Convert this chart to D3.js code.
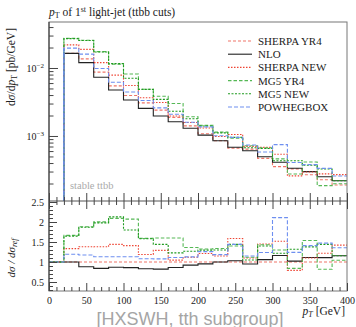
<!DOCTYPE html>
<html>
<head>
<meta charset="utf-8">
<script src="https://cdn.jsdelivr.net/npm/d3@7"></script>
<style>
  html, body { margin: 0; padding: 0; background: #fff; }
  svg { display: block; }
  text { font-family: "Liberation Serif", "DejaVu Serif", serif; }
  text.sans { font-family: "Liberation Sans", Arial, sans-serif; }
</style>
</head>
<body>
<svg id="chart" width="356" height="327"></svg>
<script>
// Bin edges of the leading light-jet pT histogram [GeV]
const binEdges = [20, 40, 60, 80, 100, 120, 140, 160, 180, 200, 220, 240, 260, 280, 300, 320, 340, 360, 380, 400];

// dσ/dpT [pb/GeV] per bin
const sherpaYR4 = [0.0164, 0.0136, 0.00869, 0.00545, 0.00393, 0.00307, 0.00240, 0.00188, 0.00141, 0.00108, 0.000853, 0.000662, 0.000640, 0.000468, 0.000354, 0.000328, 0.000269, 0.000227, 0.000190];
const nlo       = [0.0164, 0.0120, 0.00730, 0.00474, 0.00338, 0.00255, 0.00197, 0.00162, 0.00130, 0.00103, 0.000853, 0.000682, 0.000608, 0.000496, 0.000411, 0.000335, 0.000299, 0.000252, 0.000220];
const sherpaNEW = [0.0219, 0.0188, 0.0120, 0.00785, 0.00554, 0.00365, 0.00310, 0.00197, 0.00158, 0.00131, 0.000981, 0.00105, 0.000704, 0.000679, 0.000538, 0.000259, 0.000296, 0.000277, 0.000270];
const mg5YR4    = [0.0273, 0.0256, 0.0174, 0.0114, 0.00814, 0.00488, 0.00384, 0.00301, 0.00192, 0.00143, 0.00114, 0.000927, 0.000717, 0.000669, 0.000460, 0.000276, 0.000414, 0.000186, 0.000198];
const mg5NEW    = [0.0270, 0.0254, 0.0172, 0.0116, 0.00707, 0.00485, 0.00346, 0.00231, 0.00179, 0.00140, 0.00111, 0.000953, 0.000672, 0.000655, 0.000432, 0.000433, 0.000371, 0.000327, 0.000220];
const powheg    = [0.0196, 0.0160, 0.00982, 0.00616, 0.00444, 0.00332, 0.00259, 0.00209, 0.00159, 0.00136, 0.00101, 0.000953, 0.000736, 0.000580, 0.000747, 0.000407, 0.000379, 0.000334, 0.000258];

const seriesNames = ["SHERPA YR4", "NLO", "SHERPA NEW", "MG5 YR4", "MG5 NEW", "POWHEGBOX"];
const seriesValues = [sherpaYR4, nlo, sherpaNEW, mg5YR4, mg5NEW, powheg];
const referenceIndex = 0;

// Tick labels
const xTickValues = [0, 50, 100, 150, 200, 250, 300, 350, 400];
const ratioTickValues = [0.5, 1, 1.5, 2, 2.5];
const mainMajorTicks = [1e-3, 1e-2];

// Line styles per series
const styles = [
  { color: "#f07468", dash: "3,2", width: 1.1 },
  { color: "#222222", dash: null, width: 1.1 },
  { color: "#ee4433", dash: "1.5,1.5", width: 1.1 },
  { color: "#55b855", dash: "3.5,2", width: 1.1 },
  { color: "#1f9a1f", dash: "2,1.5", width: 1.1 },
  { color: "#6e8ff0", dash: "4,2", width: 1.1 }
];

const svg = d3.select("#chart");
const L = 49, R = 347, T = 22, MID = 201, B = 291;

const x = d3.scaleLinear().domain([0, 400]).range([L, R]);
const y = d3.scaleLog().domain([1.106e-4, 0.04747]).range([MID, T]);
const yr = d3.scaleLinear().domain([0.275, 2.525]).range([B, MID]);

const axisColor = "#444";

// clip paths for each panel
const defs = svg.append("defs");
defs.append("clipPath").attr("id", "clipMain").append("rect")
  .attr("x", L).attr("y", T).attr("width", R - L).attr("height", MID - T);
defs.append("clipPath").attr("id", "clipRatio").append("rect")
  .attr("x", L).attr("y", MID).attr("width", R - L).attr("height", B - MID);

// ---- Title
const title = svg.append("text").attr("x", 49).attr("y", 16).attr("font-size", 11.5).attr("fill", "#222");
title.append("tspan").attr("font-style", "italic").text("p");
title.append("tspan").attr("font-size", 8).attr("dy", 2).text("T");
title.append("tspan").attr("dy", -2).text(" of 1");
title.append("tspan").attr("font-size", 8).attr("dy", -4).text("st");
title.append("tspan").attr("dy", 4).text(" light-jet (ttbb cuts)");

// ---- Main panel histograms
const mainG = svg.append("g").attr("clip-path", "url(#clipMain)");
const yBottom = y.domain()[0];
const mainLine = d3.line().x(d => x(d[0])).y(d => y(d[1])).curve(d3.curveStepAfter);
seriesValues.forEach((vals, i) => {
  const pts = [[binEdges[0], yBottom]];
  vals.forEach((v, k) => pts.push([binEdges[k], v]));
  pts.push([binEdges[binEdges.length - 1], vals[vals.length - 1]]);
  mainG.append("path").attr("d", mainLine(pts))
    .attr("fill", "none").attr("stroke", styles[i].color)
    .attr("stroke-width", styles[i].width)
    .attr("stroke-dasharray", styles[i].dash);
});
// the leading edge of the last series is drawn solid on top
mainG.append("line")
  .attr("x1", x(binEdges[0])).attr("x2", x(binEdges[0]))
  .attr("y1", y(yBottom)).attr("y2", y(powheg[0]))
  .attr("stroke", styles[5].color).attr("stroke-width", 1.2);

// ---- Ratio panel histograms
const ratioG = svg.append("g").attr("clip-path", "url(#clipRatio)");
const ratioLine = d3.line().x(d => x(d[0])).y(d => yr(d[1])).curve(d3.curveStepAfter);
const ref = seriesValues[referenceIndex];
seriesValues.forEach((vals, i) => {
  const pts = [[0, 1]];
  vals.forEach((v, k) => pts.push([binEdges[k], v / ref[k]]));
  pts.push([binEdges[binEdges.length - 1], vals[vals.length - 1] / ref[ref.length - 1]]);
  ratioG.append("path").attr("d", ratioLine(pts))
    .attr("fill", "none").attr("stroke", styles[i].color)
    .attr("stroke-width", styles[i].width)
    .attr("stroke-dasharray", styles[i].dash);
});

// ---- Frames
svg.append("rect").attr("x", L).attr("y", T).attr("width", R - L).attr("height", B - T)
  .attr("fill", "none").attr("stroke", "#777").attr("stroke-width", 1);
svg.append("line").attr("x1", L).attr("x2", R).attr("y1", MID).attr("y2", MID)
  .attr("stroke", "#555").attr("stroke-width", 1);
svg.append("line").attr("x1", L).attr("x2", L).attr("y1", T).attr("y2", B)
  .attr("stroke", "#333").attr("stroke-width", 1);

function styleAxis(g) {
  g.select(".domain").remove();
  g.selectAll(".tick line").attr("stroke", axisColor);
  g.selectAll(".tick text").attr("fill", "#222");
}

// ---- X ticks (inside, on both sides of the panel divider and at bottom)
const xMinor = d3.range(0, 401, 10).filter(v => v % 50 !== 0);
[[MID, 1], [MID, -1], [B, 1]].forEach(([yy, dir]) => {
  const ax = dir > 0 ? d3.axisBottom(x) : d3.axisTop(x);
  svg.append("g").attr("transform", `translate(0,${yy})`)
    .call(ax.tickValues(xTickValues).tickSize(-8).tickFormat(""))
    .call(styleAxis);
  const ax2 = dir > 0 ? d3.axisBottom(x) : d3.axisTop(x);
  svg.append("g").attr("transform", `translate(0,${yy})`)
    .call(ax2.tickValues(xMinor).tickSize(-4).tickFormat(""))
    .call(styleAxis);
});
// x tick labels
svg.append("g").attr("transform", `translate(0,${B})`)
  .call(d3.axisBottom(x).tickValues(xTickValues).tickSize(0).tickPadding(6).tickFormat(d3.format("d")))
  .call(styleAxis)
  .selectAll(".tick text").attr("font-size", 10);

// ---- Main y axis (log)
const supMinus = { "-2": "\u22122", "-3": "\u22123" };
const yAx = svg.append("g").attr("transform", `translate(${L},0)`)
  .call(d3.axisLeft(y).tickValues(mainMajorTicks).tickSize(-9).tickPadding(5).tickFormat(""))
  .call(styleAxis);
yAx.selectAll(".tick").each(function(d) {
  const e = Math.round(Math.log10(d));
  const t = d3.select(this).append("text").attr("x", -5).attr("dy", "0.32em")
    .attr("text-anchor", "end").attr("font-size", 10).attr("fill", "#222");
  t.append("tspan").text("10");
  t.append("tspan").attr("font-size", 7).attr("dy", -4).text(supMinus[String(e)]);
});
const minorLog = [];
[1e-4, 1e-3, 1e-2].forEach(dec => { for (let m = 2; m <= 9; m++) minorLog.push(m * dec); });
svg.append("g").attr("transform", `translate(${L},0)`)
  .call(d3.axisLeft(y).tickValues(minorLog.filter(v => v >= y.domain()[0] && v <= y.domain()[1]))
    .tickSize(-4.5).tickFormat(""))
  .call(styleAxis);

// ---- Ratio y axis
svg.append("g").attr("transform", `translate(${L},0)`)
  .call(d3.axisLeft(yr).tickValues(ratioTickValues).tickSize(-8).tickPadding(5)
    .tickFormat(d => String(d)))
  .call(styleAxis)
  .selectAll(".tick text").attr("font-size", 10);
const ratioMinor = d3.range(3, 26).map(v => v / 10).filter(v => Math.abs(v * 2 - Math.round(v * 2)) > 1e-6);
svg.append("g").attr("transform", `translate(${L},0)`)
  .call(d3.axisLeft(yr).tickValues(ratioMinor).tickSize(-4).tickFormat(""))
  .call(styleAxis);

// ---- Axis titles
const yl = svg.append("text").attr("transform", `translate(15,67) rotate(-90)`)
  .attr("text-anchor", "middle").attr("font-size", 11.5).attr("fill", "#222");
yl.append("tspan").text("d");
yl.append("tspan").attr("font-style", "italic").text("σ");
yl.append("tspan").text("/d");
yl.append("tspan").attr("font-style", "italic").text("p");
yl.append("tspan").attr("font-size", 8).attr("dy", 2).text("T");
yl.append("tspan").attr("dy", -2).text(" [pb/GeV]");

const rl = svg.append("text").attr("transform", `translate(15,${yr(1) - 4}) rotate(-90)`)
  .attr("text-anchor", "middle").attr("font-size", 11).attr("font-style", "italic").attr("fill", "#222");
rl.append("tspan").text("dσ / dσ");
rl.append("tspan").attr("font-size", 8).attr("dy", 2).text("ref");

const xl = svg.append("text").attr("x", 345).attr("y", 315).attr("text-anchor", "end")
  .attr("font-size", 11.5).attr("fill", "#222");
xl.append("tspan").attr("font-style", "italic").text("p");
xl.append("tspan").attr("font-style", "italic").attr("font-size", 8).attr("dy", 2).text("T");
xl.append("tspan").attr("dy", -2).text(" [GeV]");

// ---- Annotations
svg.append("text").attr("x", 70).attr("y", 189).attr("font-size", 10.5).attr("fill", "#aaa")
  .text("stable ttbb");

svg.append("text").attr("class", "sans").attr("x", 190).attr("y", 324.5).attr("text-anchor", "middle")
  .attr("font-size", 18).attr("fill", "#a5a5a5").text("[HXSWH, tth subgroup]");

// ---- Legend
const legend = svg.append("g");
seriesNames.forEach((name, i) => {
  const yy = 41 + i * 13.2;
  legend.append("line").attr("x1", 228).attr("x2", 252).attr("y1", yy).attr("y2", yy)
    .attr("stroke", styles[i].color).attr("stroke-width", styles[i].width)
    .attr("stroke-dasharray", styles[i].dash);
  legend.append("text").attr("x", 258).attr("y", yy + 4).attr("font-size", 11).attr("fill", "#222")
    .text(name);
});
</script>
</body>
</html>
